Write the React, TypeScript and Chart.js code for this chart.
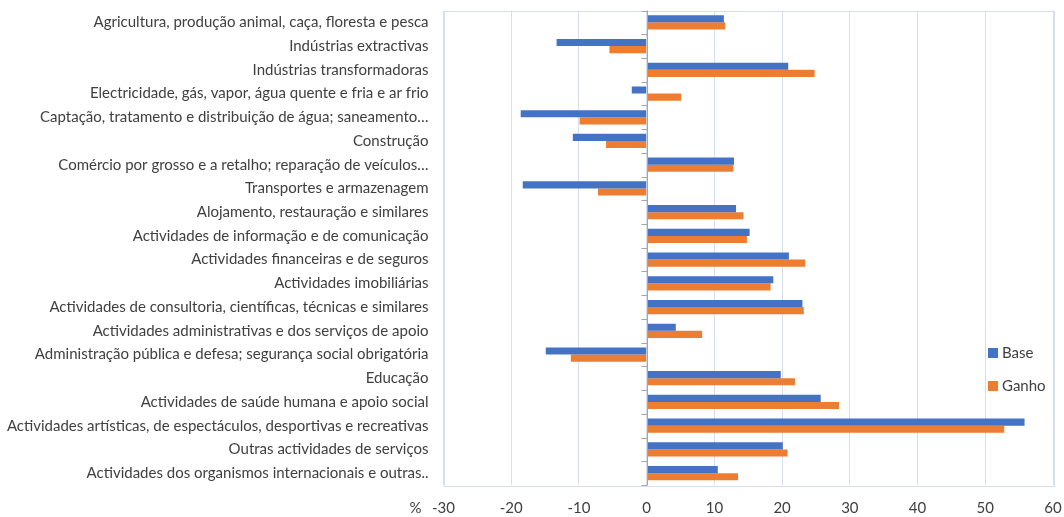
import React, { useEffect, useRef } from "react";
import { Chart, registerables } from "chart.js";

Chart.register(...registerables);

const categories = [
  "Agricultura, produção animal, caça, floresta e pesca",
  "Indústrias extractivas",
  "Indústrias transformadoras",
  "Electricidade, gás, vapor, água quente e fria e ar frio",
  "Captação, tratamento e distribuição de água; saneamento…",
  "Construção",
  "Comércio por grosso e a retalho; reparação de veículos…",
  "Transportes e armazenagem",
  "Alojamento, restauração e similares",
  "Actividades de informação e de comunicação",
  "Actividades financeiras e de seguros",
  "Actividades imobiliárias",
  "Actividades de consultoria, científicas, técnicas e similares",
  "Actividades administrativas e dos serviços de apoio",
  "Administração pública e defesa; segurança social obrigatória",
  "Educação",
  "Actividades de saúde humana e apoio social",
  "Actividades artísticas, de espectáculos, desportivas e recreativas",
  "Outras actividades de serviços",
  "Actividades dos organismos internacionais e outras..",
];

const baseValues = [11.4, -13.3, 20.9, -2.2, -18.6, -10.9, 12.9, -18.3, 13.2, 15.2, 21.0, 18.7, 23.0, 4.3, -14.9, 19.8, 25.7, 55.8, 20.1, 10.5];
const ganhoValues = [11.6, -5.5, 24.8, 5.1, -9.9, -6.0, 12.8, -7.2, 14.3, 14.8, 23.4, 18.3, 23.2, 8.2, -11.2, 21.9, 28.4, 52.8, 20.8, 13.5];

const seriesNames = ["Base", "Ganho"];
const seriesColors = ["#4472C4", "#ED7D31"];
const xMin = -30;
const xMax = 60;
const xStep = 10;
const axisUnit = "%";

const FONT = "Lato, 'DejaVu Sans', sans-serif";
const TEXT_COLOR = "#404040";
const GRID_COLOR = "#D6DEEF";

const decorPlugin = {
  id: "decor",
  beforeDatasetsDraw(chart: any) {
    const { ctx, chartArea } = chart;
    ctx.save();
    ctx.strokeStyle = GRID_COLOR;
    ctx.lineWidth = 1;
    ctx.strokeRect(
      Math.round(chartArea.left) + 0.5,
      Math.round(chartArea.top) + 0.5,
      Math.round(chartArea.right - chartArea.left),
      Math.round(chartArea.bottom - chartArea.top)
    );
    ctx.restore();
  },
  afterDatasetsDraw(chart: any) {
    const { ctx, chartArea, scales } = chart;
    const x0 = Math.round(scales.x.getPixelForValue(0)) + 0.5;
    ctx.save();
    ctx.strokeStyle = "#A6A6A6";
    ctx.lineWidth = 1;
    ctx.beginPath();
    ctx.moveTo(x0, chartArea.top);
    ctx.lineTo(x0, chartArea.bottom);
    const n = categories.length;
    const h = (chartArea.bottom - chartArea.top) / n;
    for (let i = 0; i <= n; i++) {
      const y = Math.round(chartArea.top + i * h) + 0.5;
      ctx.moveTo(x0 - 6, y);
      ctx.lineTo(x0, y);
    }
    ctx.stroke();
    ctx.restore();
  },
  afterDraw(chart: any) {
    const { ctx, chartArea } = chart;
    ctx.save();
    ctx.fillStyle = TEXT_COLOR;
    ctx.font = `15px ${FONT}`;
    ctx.textBaseline = "middle";
    ctx.textAlign = "right";
    ctx.fillText(axisUnit, chartArea.left - 22, 508);
    ctx.textAlign = "left";
    const lx = 988;
    const ly = [353, 386];
    seriesNames.forEach((name, i) => {
      ctx.fillStyle = seriesColors[i];
      ctx.fillRect(lx, ly[i] - 5, 10, 10);
      ctx.fillStyle = TEXT_COLOR;
      ctx.fillText(name, lx + 14, ly[i]);
    });
    ctx.restore();
  },
};

export default function App() {
  const ref = useRef<HTMLCanvasElement | null>(null);
  useEffect(() => {
    if (!ref.current) return;
    const chart = new Chart(ref.current, {
      type: "bar",
      data: {
        labels: categories,
        datasets: seriesNames.map((name, i) => ({
          label: name,
          data: i === 0 ? baseValues : ganhoValues,
          backgroundColor: seriesColors[i],
          borderWidth: 0,
          barPercentage: 1.0,
          categoryPercentage: 0.6,
        })),
      },
      options: {
        indexAxis: "y",
        animation: false,
        responsive: false,
        maintainAspectRatio: false,
        layout: { padding: { left: 0, right: 11, top: 10.5, bottom: 0 } },
        plugins: { legend: { display: false }, tooltip: { enabled: false } },
        scales: {
          x: {
            min: xMin,
            max: xMax,
            ticks: {
              stepSize: xStep,
              color: TEXT_COLOR,
              font: { family: FONT, size: 15 },
              padding: 14,
            },
            grid: { color: GRID_COLOR, drawTicks: false },
            border: { display: false },
            afterFit(scale: any) {
              scale.height = 32;
              scale.paddingLeft = 0;
              scale.paddingRight = 0;
            },
          },
          y: {
            ticks: {
              color: TEXT_COLOR,
              font: { family: FONT, size: 15 },
              padding: 15,
              autoSkip: false,
            },
            grid: { display: false, drawTicks: false },
            border: { display: false },
            afterFit(scale: any) {
              scale.width = 443.5;
              scale.paddingTop = 0;
              scale.paddingBottom = 0;
            },
          },
        },
      },
      plugins: [decorPlugin],
    });
    return () => chart.destroy();
  }, []);
  return (
    <div style={{ position: "absolute", left: 0, top: 0, width: 1064, height: 517, background: "#fff" }}>
      <canvas ref={ref} width={1064} height={517} style={{ display: "block" }} />
    </div>
  );
}
